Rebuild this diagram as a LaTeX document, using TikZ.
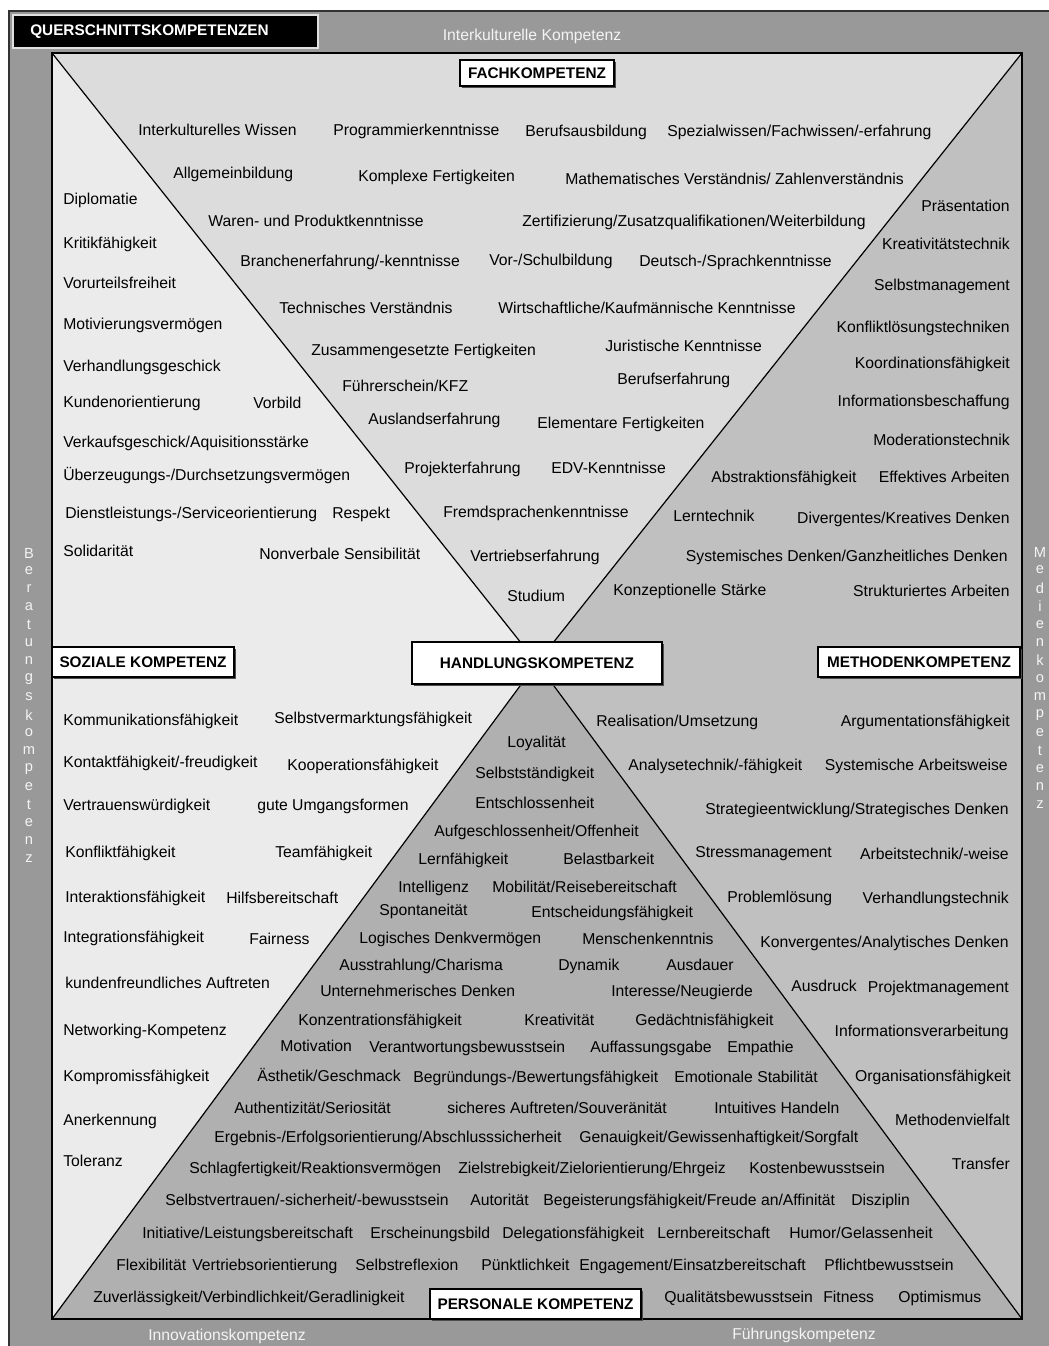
\documentclass[tikz,border=0pt]{standalone}
\usepackage{fontspec}
\setmainfont{Liberation Sans}
\usetikzlibrary{shadows}
\definecolor{framegray}{HTML}{999999}
\definecolor{topgray}{HTML}{DCDCDC}
\definecolor{leftgray}{HTML}{EBEBEB}
\definecolor{rightgray}{HTML}{C0C0C0}
\definecolor{botgray}{HTML}{B0B0B0}
\definecolor{lighttext}{HTML}{F4F4F4}
\begin{document}
\begin{tikzpicture}[x=0.75pt,y=-0.75pt,
  txt/.style={anchor=west,inner sep=0pt,text height=11pt,text depth=2.5pt,font=\fontsize{11.8}{14}\selectfont},
  txtr/.style={txt,anchor=east},
  outerlbl/.style={inner sep=0pt,text=lighttext,font=\fontsize{11.8}{14}\selectfont},
  letter/.style={inner sep=0pt,text=lighttext,font=\fontsize{11}{13}\selectfont},
  hdr/.style={draw=black,line width=0.8pt,fill=white,inner sep=0pt,font=\fontsize{11.5}{14}\selectfont\bfseries,drop shadow={shadow xshift=1.2pt,shadow yshift=-1.2pt,fill=black!70,opacity=1}},
  diag/.style={line width=0.9pt}
]
\useasboundingbox (0,0) rectangle (1049,1346);
\fill[framegray] (9,11) rectangle (1049,1346);
\draw[line width=0.8pt,black!80] (9,1346) -- (9,11) -- (1049,11);

\coordinate (TL) at (52,53);
\coordinate (TR) at (1022,53);
\coordinate (BL) at (52,1319);
\coordinate (BR) at (1022,1319);
\coordinate (C) at (537,663);
\fill[topgray] (TL) -- (TR) -- (C) -- cycle;
\fill[leftgray] (TL) -- (C) -- (BL) -- cycle;
\fill[rightgray] (TR) -- (C) -- (BR) -- cycle;
\fill[botgray] (BL) -- (C) -- (BR) -- cycle;
\draw[diag] (TL) -- (C) -- (BR);
\draw[diag] (TR) -- (C) -- (BL);
\draw[line width=0.8pt] (TL) rectangle (BR);

% title box
\node[draw=black!12,line width=1pt,fill=black,minimum width=228.75pt,minimum height=24.75pt,inner sep=0pt] (qbox) at (165.5,31.5) {};
\node[anchor=west,inner sep=0pt,text=white,font=\fontsize{11.5}{14}\selectfont\bfseries] (qtxt) at (30,32) {QUERSCHNITTSKOMPETENZEN};

% outer labels
\node[outerlbl] (ik) at (532,36) {Interkulturelle Kompetenz};
\node[outerlbl] (inno) at (227,1336) {Innovationskompetenz};
\node[outerlbl] (fuehr) at (804,1335) {Führungskompetenz};
\foreach \l [count=\i] in {B,e,r,a,t,u,n,g,s,k,o,m,p,e,t,e,n,z}
  \node[letter] (bk\i) at (29,{553+18*(\i-1)}) {\l};
\foreach \l [count=\i] in {M,e,d,i,e,n,k,o,m,p,e,t,e,n,z}
  \node[letter] (mk\i) at (1040,{552+18.07*(\i-1)}) {\l};

% headers
\node[hdr,minimum width=115.5pt,minimum height=19.5pt] (fach) at (537,73) {FACHKOMPETENZ};
\node[hdr,minimum width=136.5pt,minimum height=22.5pt] (sozial) at (143,662) {SOZIALE KOMPETENZ};
\node[hdr,minimum width=151.5pt,minimum height=22.5pt] (methode) at (919,662) {METHODENKOMPETENZ};
\node[hdr,minimum width=187.5pt,minimum height=31.5pt] (handlung) at (537,663) {HANDLUNGSKOMPETENZ};
\node[hdr,minimum width=158.25pt,minimum height=22.5pt] (personal) at (535.5,1304) {PERSONALE KOMPETENZ};

% Fachkompetenz
\node[txt] (f1) at (138,130) {Interkulturelles Wissen};
\node[txt] (f2) at (333,130) {Programmierkenntnisse};
\node[txt] (f3) at (525,131) {Berufsausbildung};
\node[txt] (f4) at (667,131) {Spezialwissen/Fachwissen/-erfahrung};
\node[txt] (f5) at (173,173) {Allgemeinbildung};
\node[txt] (f6) at (358,176) {Komplexe Fertigkeiten};
\node[txt] (f7) at (565,179) {Mathematisches Verständnis/ Zahlenverständnis};
\node[txt] (f8) at (208,221) {Waren- und Produktkenntnisse};
\node[txt] (f9) at (522,221) {Zertifizierung/Zusatzqualifikationen/Weiterbildung};
\node[txt] (f10) at (240,261) {Branchenerfahrung/-kenntnisse};
\node[txt] (f11) at (489,260) {Vor-/Schulbildung};
\node[txt] (f12) at (639,261) {Deutsch-/Sprachkenntnisse};
\node[txt] (f13) at (279,308) {Technisches Verständnis};
\node[txt] (f14) at (498,308) {Wirtschaftliche/Kaufmännische Kenntnisse};
\node[txt] (f15) at (311,350) {Zusammengesetzte Fertigkeiten};
\node[txt] (f16) at (605,346) {Juristische Kenntnisse};
\node[txt] (f17) at (342,386) {Führerschein/KFZ};
\node[txt] (f18) at (617,379) {Berufserfahrung};
\node[txt] (f19) at (368,419) {Auslandserfahrung};
\node[txt] (f20) at (537,423) {Elementare Fertigkeiten};
\node[txt] (f21) at (404,468) {Projekterfahrung};
\node[txt] (f22) at (551,468) {EDV-Kenntnisse};
\node[txt] (f23) at (443,512) {Fremdsprachenkenntnisse};
\node[txt] (f24) at (470,556) {Vertriebserfahrung};
\node[txt] (f25) at (507,596) {Studium};

% Soziale Kompetenz (upper)
\node[txt] (s1) at (63,199) {Diplomatie};
\node[txt] (s2) at (63,243) {Kritikfähigkeit};
\node[txt] (s3) at (63,283) {Vorurteilsfreiheit};
\node[txt] (s4) at (63,324) {Motivierungsvermögen};
\node[txt] (s5) at (63,366) {Verhandlungsgeschick};
\node[txt] (s6) at (63,402) {Kundenorientierung};
\node[txt] (s7) at (253,403) {Vorbild};
\node[txt] (s8) at (63,442) {Verkaufsgeschick/Aquisitionsstärke};
\node[txt] (s9) at (63,475) {Überzeugungs-/Durchsetzungsvermögen};
\node[txt] (s10) at (65,513) {Dienstleistungs-/Serviceorientierung};
\node[txt] (s11) at (332,513) {Respekt};
\node[txt] (s12) at (63,551) {Solidarität};
\node[txt] (s13) at (259,554) {Nonverbale Sensibilität};

% Methodenkompetenz (upper)
\node[txtr] (m1) at (1010,206) {Präsentation};
\node[txtr] (m2) at (1010,244) {Kreativitätstechnik};
\node[txtr] (m3) at (1010,285) {Selbstmanagement};
\node[txtr] (m4) at (1010,327) {Konfliktlösungstechniken};
\node[txtr] (m5) at (1010,363) {Koordinationsfähigkeit};
\node[txtr] (m6) at (1010,401) {Informationsbeschaffung};
\node[txtr] (m7) at (1010,440) {Moderationstechnik};
\node[txt] (m8) at (711,477) {Abstraktionsfähigkeit};
\node[txtr] (m9) at (1010,477) {Effektives Arbeiten};
\node[txt] (m10) at (673,516) {Lerntechnik};
\node[txtr] (m11) at (1010,518) {Divergentes/Kreatives Denken};
\node[txtr] (m12) at (1008,556) {Systemisches Denken/Ganzheitliches Denken};
\node[txt] (m13) at (613,590) {Konzeptionelle Stärke};
\node[txtr] (m14) at (1010,591) {Strukturiertes Arbeiten};

% Soziale Kompetenz (lower)
\node[txt] (s14) at (63,720) {Kommunikationsfähigkeit};
\node[txt] (s15) at (274,718) {Selbstvermarktungsfähigkeit};
\node[txt] (s16) at (63,762) {Kontaktfähigkeit/-freudigkeit};
\node[txt] (s17) at (287,765) {Kooperationsfähigkeit};
\node[txt] (s18) at (63,805) {Vertrauenswürdigkeit};
\node[txt] (s19) at (257,805) {gute Umgangsformen};
\node[txt] (s20) at (65,852) {Konfliktfähigkeit};
\node[txt] (s21) at (275,852) {Teamfähigkeit};
\node[txt] (s22) at (65,897) {Interaktionsfähigkeit};
\node[txt] (s23) at (226,898) {Hilfsbereitschaft};
\node[txt] (s24) at (63,937) {Integrationsfähigkeit};
\node[txt] (s25) at (249,939) {Fairness};
\node[txt] (s26) at (65,983) {kundenfreundliches Auftreten};
\node[txt] (s27) at (63,1030) {Networking-Kompetenz};
\node[txt] (s28) at (63,1076) {Kompromissfähigkeit};
\node[txt] (s29) at (63,1120) {Anerkennung};
\node[txt] (s30) at (63,1161) {Toleranz};

% Methodenkompetenz (lower)
\node[txt] (m15) at (596,721) {Realisation/Umsetzung};
\node[txtr] (m16) at (1010,721) {Argumentationsfähigkeit};
\node[txt] (m17) at (628,765) {Analysetechnik/-fähigkeit};
\node[txtr] (m18) at (1008,765) {Systemische Arbeitsweise};
\node[txtr] (m19) at (1009,809) {Strategieentwicklung/Strategisches Denken};
\node[txt] (m20) at (695,852) {Stressmanagement};
\node[txtr] (m21) at (1009,854) {Arbeitstechnik/-weise};
\node[txt] (m22) at (727,897) {Problemlösung};
\node[txtr] (m23) at (1009,898) {Verhandlungstechnik};
\node[txtr] (m24) at (1009,942) {Konvergentes/Analytisches Denken};
\node[txt] (m25) at (791,986) {Ausdruck};
\node[txtr] (m26) at (1009,987) {Projektmanagement};
\node[txtr] (m27) at (1009,1031) {Informationsverarbeitung};
\node[txtr] (m28) at (1011,1076) {Organisationsfähigkeit};
\node[txtr] (m29) at (1010,1120) {Methodenvielfalt};
\node[txtr] (m30) at (1010,1164) {Transfer};

% Personale Kompetenz
\node[txt] (p1) at (507,742) {Loyalität};
\node[txt] (p2) at (475,773) {Selbstständigkeit};
\node[txt] (p3) at (475,803) {Entschlossenheit};
\node[txt] (p4) at (434,831) {Aufgeschlossenheit/Offenheit};
\node[txt] (p5) at (418,859) {Lernfähigkeit};
\node[txt] (p6) at (563,859) {Belastbarkeit};
\node[txt] (p7) at (398,887) {Intelligenz};
\node[txt] (p8) at (492,887) {Mobilität/Reisebereitschaft};
\node[txt] (p9) at (379,910) {Spontaneität};
\node[txt] (p10) at (531,912) {Entscheidungsfähigkeit};
\node[txt] (p11) at (359,938) {Logisches Denkvermögen};
\node[txt] (p12) at (582,939) {Menschenkenntnis};
\node[txt] (p13) at (339,965) {Ausstrahlung/Charisma};
\node[txt] (p14) at (558,965) {Dynamik};
\node[txt] (p15) at (666,965) {Ausdauer};
\node[txt] (p16) at (320,991) {Unternehmerisches Denken};
\node[txt] (p17) at (611,991) {Interesse/Neugierde};
\node[txt] (p18) at (298,1020) {Konzentrationsfähigkeit};
\node[txt] (p19) at (524,1020) {Kreativität};
\node[txt] (p20) at (635,1020) {Gedächtnisfähigkeit};
\node[txt] (p21) at (280,1046) {Motivation};
\node[txt] (p22) at (369,1047) {Verantwortungsbewusstsein};
\node[txt] (p23) at (590,1047) {Auffassungsgabe};
\node[txt] (p24) at (727,1047) {Empathie};
\node[txt] (p25) at (257,1076) {Ästhetik/Geschmack};
\node[txt] (p26) at (413,1077) {Begründungs-/Bewertungsfähigkeit};
\node[txt] (p27) at (674,1077) {Emotionale Stabilität};
\node[txt] (p28) at (234,1108) {Authentizität/Seriosität};
\node[txt] (p29) at (447,1108) {sicheres Auftreten/Souveränität};
\node[txt] (p30) at (714,1108) {Intuitives Handeln};
\node[txt] (p31) at (214,1137) {Ergebnis-/Erfolgsorientierung/Abschlusssicherheit};
\node[txt] (p32) at (579,1137) {Genauigkeit/Gewissenhaftigkeit/Sorgfalt};
\node[txt] (p33) at (189,1168) {Schlagfertigkeit/Reaktionsvermögen};
\node[txt] (p34) at (458,1168) {Zielstrebigkeit/Zielorientierung/Ehrgeiz};
\node[txt] (p35) at (749,1168) {Kostenbewusstsein};
\node[txt] (p36) at (165,1200) {Selbstvertrauen/-sicherheit/-bewusstsein};
\node[txt] (p37) at (470,1200) {Autorität};
\node[txt] (p38) at (543,1200) {Begeisterungsfähigkeit/Freude an/Affinität};
\node[txt] (p39) at (851,1200) {Disziplin};
\node[txt] (p40) at (142,1233) {Initiative/Leistungsbereitschaft};
\node[txt] (p41) at (370,1233) {Erscheinungsbild};
\node[txt] (p42) at (502,1233) {Delegationsfähigkeit};
\node[txt] (p43) at (657,1233) {Lernbereitschaft};
\node[txt] (p44) at (789,1233) {Humor/Gelassenheit};
\node[txt] (p45) at (116,1265) {Flexibilität};
\node[txt] (p46) at (192,1265) {Vertriebsorientierung};
\node[txt] (p47) at (355,1265) {Selbstreflexion};
\node[txt] (p48) at (481,1265) {Pünktlichkeit};
\node[txt] (p49) at (579,1265) {Engagement/Einsatzbereitschaft};
\node[txt] (p50) at (824,1265) {Pflichtbewusstsein};
\node[txt] (p51) at (93,1297) {Zuverlässigkeit/Verbindlichkeit/Geradlinigkeit};
\node[txt] (p52) at (664,1297) {Qualitätsbewusstsein};
\node[txt] (p53) at (823,1297) {Fitness};
\node[txt] (p54) at (898,1297) {Optimismus};
\end{tikzpicture}
\end{document}
